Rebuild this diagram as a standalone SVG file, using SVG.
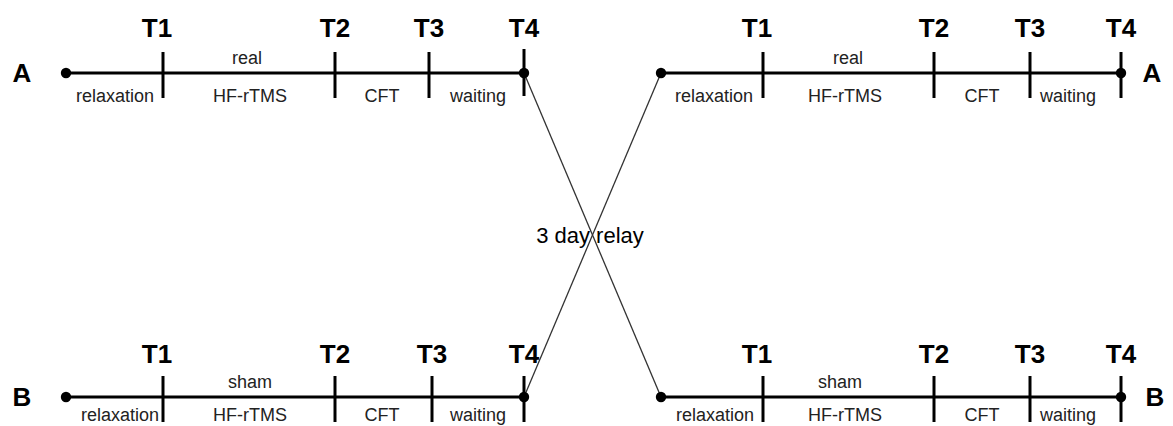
<svg xmlns="http://www.w3.org/2000/svg" width="1173" height="426" viewBox="0 0 1173 426">
<style>
.axis{stroke:#000;stroke-width:3;fill:none}
.tick{stroke:#000;stroke-width:3}
.dot{fill:#000}
.cross{stroke:#333;stroke-width:1.3;fill:none}
.tl{font-family:"Liberation Sans",Arial,sans-serif;font-size:26px;font-weight:bold;fill:#000;text-anchor:middle}
.grp{font-family:"Liberation Sans",Arial,sans-serif;font-size:26px;font-weight:bold;fill:#000;text-anchor:middle}
.lab{font-family:"Liberation Sans",Arial,sans-serif;font-size:18px;fill:#222;text-anchor:middle}
.mid{font-family:"Liberation Sans",Arial,sans-serif;font-size:22px;fill:#000;text-anchor:middle}
</style>
<rect width="1173" height="426" fill="#fff"/>
<g id="connectors">
<line class="cross" x1="524" y1="73" x2="661" y2="397"/>
<line class="cross" x1="524" y1="397" x2="661" y2="73"/>
</g>
<text class="mid" x="590" y="243">3 day relay</text>
<g id="timeline-A-left">
<text class="grp" x="22" y="82">A</text>
<line class="axis" x1="66" y1="73" x2="524" y2="73"/>
<circle class="dot" cx="66" cy="73" r="5.2"/>
<circle class="dot" cx="524" cy="73" r="5.2"/>
<line class="tick" x1="163" y1="52" x2="163" y2="98"/>
<line class="tick" x1="335" y1="52" x2="335" y2="98"/>
<line class="tick" x1="429" y1="52" x2="429" y2="98"/>
<line class="tick" x1="524" y1="49" x2="524" y2="96"/>
<text class="tl" x="157" y="37">T1</text>
<text class="tl" x="335" y="37">T2</text>
<text class="tl" x="429" y="37">T3</text>
<text class="tl" x="524" y="37">T4</text>
<text class="lab" x="247" y="64">real</text>
<text class="lab" x="115" y="102">relaxation</text>
<text class="lab" x="250" y="102">HF-rTMS</text>
<text class="lab" x="382" y="102">CFT</text>
<text class="lab" x="478" y="102">waiting</text>
</g>
<g id="timeline-A-right">
<line class="axis" x1="661" y1="73" x2="1121" y2="73"/>
<circle class="dot" cx="661" cy="73" r="5.2"/>
<circle class="dot" cx="1121" cy="73" r="5.2"/>
<line class="tick" x1="763" y1="52" x2="763" y2="98"/>
<line class="tick" x1="934" y1="52" x2="934" y2="98"/>
<line class="tick" x1="1030" y1="52" x2="1030" y2="98"/>
<line class="tick" x1="1121" y1="52" x2="1121" y2="98"/>
<text class="tl" x="757" y="37">T1</text>
<text class="tl" x="934" y="37">T2</text>
<text class="tl" x="1030" y="37">T3</text>
<text class="tl" x="1121" y="37">T4</text>
<text class="grp" x="1152" y="82">A</text>
<text class="lab" x="848" y="64">real</text>
<text class="lab" x="714" y="102">relaxation</text>
<text class="lab" x="845" y="102">HF-rTMS</text>
<text class="lab" x="982" y="102">CFT</text>
<text class="lab" x="1068" y="102">waiting</text>
</g>
<g id="timeline-B-left">
<text class="grp" x="22" y="406">B</text>
<line class="axis" x1="66" y1="397" x2="524" y2="397"/>
<circle class="dot" cx="66" cy="397" r="5.2"/>
<circle class="dot" cx="524" cy="397" r="5.2"/>
<line class="tick" x1="163" y1="376" x2="163" y2="422"/>
<line class="tick" x1="335" y1="376" x2="335" y2="422"/>
<line class="tick" x1="432" y1="376" x2="432" y2="422"/>
<line class="tick" x1="524" y1="376" x2="524" y2="422"/>
<text class="tl" x="157" y="363">T1</text>
<text class="tl" x="335" y="363">T2</text>
<text class="tl" x="432" y="363">T3</text>
<text class="tl" x="524" y="363">T4</text>
<text class="lab" x="250" y="388">sham</text>
<text class="lab" x="120" y="421">relaxation</text>
<text class="lab" x="250" y="421">HF-rTMS</text>
<text class="lab" x="382" y="421">CFT</text>
<text class="lab" x="478" y="421">waiting</text>
</g>
<g id="timeline-B-right">
<line class="axis" x1="661" y1="397" x2="1121" y2="397"/>
<circle class="dot" cx="661" cy="397" r="5.2"/>
<circle class="dot" cx="1121" cy="397" r="5.2"/>
<line class="tick" x1="763" y1="376" x2="763" y2="422"/>
<line class="tick" x1="934" y1="376" x2="934" y2="422"/>
<line class="tick" x1="1030" y1="376" x2="1030" y2="422"/>
<line class="tick" x1="1121" y1="376" x2="1121" y2="422"/>
<text class="tl" x="757" y="363">T1</text>
<text class="tl" x="934" y="363">T2</text>
<text class="tl" x="1030" y="363">T3</text>
<text class="tl" x="1121" y="363">T4</text>
<text class="grp" x="1155" y="406">B</text>
<text class="lab" x="840" y="388">sham</text>
<text class="lab" x="715" y="421">relaxation</text>
<text class="lab" x="845" y="421">HF-rTMS</text>
<text class="lab" x="982" y="421">CFT</text>
<text class="lab" x="1068" y="421">waiting</text>
</g>
</svg>
